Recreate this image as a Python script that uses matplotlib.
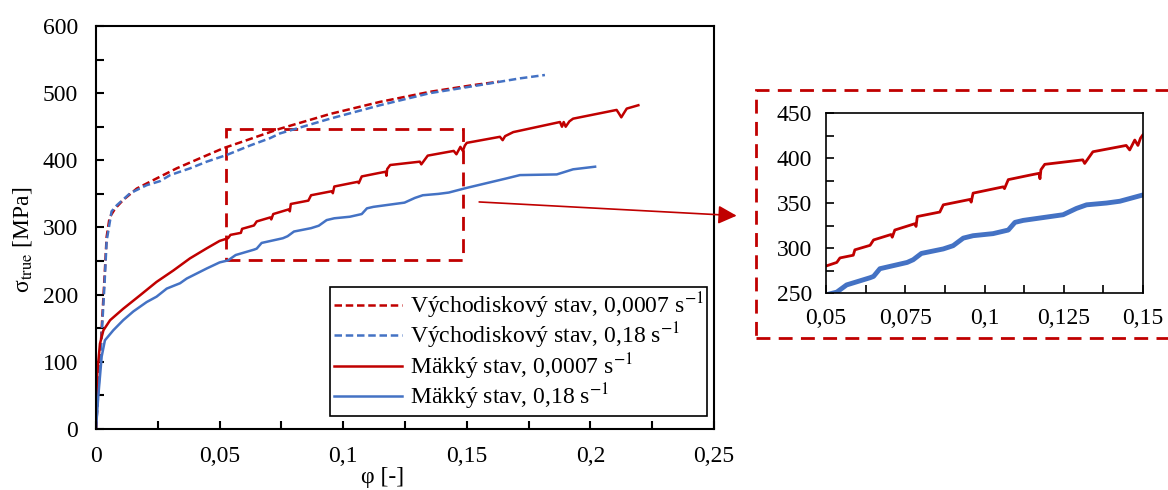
import matplotlib
matplotlib.use("Agg")
import matplotlib.pyplot as plt
from matplotlib.patches import Rectangle

plt.rcParams["font.family"] = ["Liberation Serif", "DejaVu Serif"]
plt.rcParams["mathtext.fontset"] = "stix"
plt.rcParams["font.size"] = 17

RED = "#C00000"
BLUE = "#4472C4"

# Východiskový stav, 0,0007 s-1
phi_v1 = [0, 0.002, 0.0035, 0.0043, 0.0055, 0.0077, 0.011, 0.0165, 0.0245, 0.0326,
          0.042, 0.0515, 0.061, 0.0704, 0.0744, 0.0947, 0.1149, 0.1351, 0.1526, 0.163]
sig_v1 = [0, 130, 230, 286, 315, 328, 341, 358, 373, 388,
          403, 418, 430, 442, 447, 469, 487, 502, 512, 517]

# Východiskový stav, 0,18 s-1
phi_v2 = [0, 0.002, 0.0035, 0.0043, 0.0063, 0.0084, 0.0138, 0.0205, 0.0259, 0.03,
          0.038, 0.0448, 0.0529, 0.0623, 0.0704, 0.0744, 0.0947, 0.1149, 0.1351,
          0.1553, 0.1715, 0.1816]
sig_v2 = [0, 120, 220, 280, 324, 333, 351, 363, 369, 378,
          388, 398, 408, 422, 433, 440, 462, 482, 500,
          512, 522, 527]

# Mäkký stav, 0,0007 s-1
phi_m1 = [0, 0.0005, 0.0016, 0.003, 0.0057, 0.011, 0.0178, 0.0245, 0.0313, 0.038,
          0.0448, 0.05, 0.0534, 0.0544, 0.0586, 0.0591, 0.0639, 0.065, 0.0705, 0.0709,
          0.0717, 0.078, 0.0784, 0.0788, 0.0859, 0.087, 0.0954, 0.0958, 0.0964, 0.1059,
          0.1063, 0.1075, 0.1143, 0.1172, 0.1175, 0.1178, 0.119, 0.131, 0.1316, 0.1342,
          0.1447, 0.1458, 0.1474, 0.1484, 0.1492, 0.15, 0.1634, 0.1645, 0.1655, 0.1688,
          0.1877, 0.1885, 0.1892, 0.19, 0.1915, 0.193, 0.2106, 0.2115, 0.2125, 0.2135,
          0.2147, 0.2194]
sig_m1 = [0, 83, 127, 147, 162, 179, 199, 219, 236, 254,
          269, 280, 284, 289, 292, 298, 303, 309, 315, 312,
          320, 327, 324, 335, 340, 348, 354, 351, 361, 368,
          366, 376, 381, 383, 377, 387, 393, 398, 394, 407,
          414, 409, 420, 414, 422, 426, 435, 430, 436, 442,
          457, 450, 457, 450, 458, 462, 475, 470, 464, 470,
          477, 482]

# Mäkký stav, 0,18 s-1
phi_m2 = [0, 0.0009, 0.0023, 0.0036, 0.007, 0.011, 0.0151, 0.0205, 0.0245, 0.0286,
          0.034, 0.0367, 0.0448, 0.05, 0.0534, 0.0565, 0.0639, 0.065, 0.067, 0.0756,
          0.0775, 0.0801, 0.087, 0.0901, 0.0933, 0.0964, 0.1027, 0.1075, 0.1096, 0.1122,
          0.1248, 0.129, 0.1322, 0.1385, 0.1427, 0.15, 0.166, 0.1715, 0.1864, 0.193,
          0.2019]
sig_m2 = [0, 48, 108, 132, 147, 162, 175, 189, 197, 209,
          217, 224, 239, 248, 251, 259, 267, 268.5, 277, 284,
          287, 294, 299, 302.6, 311, 313.7, 316, 320, 328.5, 330.7,
          337, 344, 348, 350, 352, 359, 373, 378, 379, 386.6,
          390.5]

labels = ["Východiskový stav, 0,0007 s$^{-1}$", "Východiskový stav, 0,18 s$^{-1}$",
          "Mäkký stav, 0,0007 s$^{-1}$", "Mäkký stav, 0,18 s$^{-1}$"]

x_ticks = [0, 0.05, 0.1, 0.15, 0.2, 0.25]
x_ticklabels = ["0", "0,05", "0,1", "0,15", "0,2", "0,25"]
y_ticks = [0, 100, 200, 300, 400, 500, 600]

ins_x_ticks = [0.05, 0.075, 0.1, 0.125, 0.15]
ins_x_ticklabels = ["0,05", "0,075", "0,1", "0,125", "0,15"]
ins_y_ticks = [250, 300, 350, 400, 450]

zoom_box = (0.0525, 252, 0.1485, 446)

fig = plt.figure(figsize=(11.68, 4.9), dpi=100)
ax = fig.add_axes([0.0822, 0.1245, 0.5291, 0.8225])

ax.plot(phi_v1, sig_v1, color=RED, lw=1.8, dashes=(3, 1.5), label=labels[0])
ax.plot(phi_v2, sig_v2, color=BLUE, lw=1.8, dashes=(3, 1.5), label=labels[1])
ax.plot(phi_m1, sig_m1, color=RED, lw=1.8, label=labels[2])
ax.plot(phi_m2, sig_m2, color=BLUE, lw=1.8, label=labels[3])

x0, y0, x1, y1 = zoom_box
ax.add_patch(Rectangle((x0, y0), x1 - x0, y1 - y0, fill=False, edgecolor=RED,
                       lw=2, linestyle=(0, (5, 3))))

ax.set_xlim(0, 0.25)
ax.set_ylim(0, 600)
ax.set_xticks(x_ticks)
ax.set_xticklabels(x_ticklabels)
ax.set_xticks([0.025, 0.075, 0.125, 0.175, 0.225], minor=True)
ax.set_yticks(y_ticks)
ax.set_yticks([50, 150, 250, 350, 450, 550], minor=True)
ax.tick_params(which="both", direction="in", length=6, width=1.5, top=False, right=False)
ax.tick_params(axis="y", which="major", pad=13)
ax.tick_params(axis="x", which="major", pad=12)
for s in ax.spines.values():
    s.set_linewidth(1.5)
ax.set_xlabel("φ [-]", labelpad=0)
ax.xaxis.set_label_coords(0.464, -0.095)
ax.set_ylabel(r"σ$_{\mathrm{true}}$ [MPa]")
ax.yaxis.set_label_coords(-0.1, 0.47)

leg = ax.legend(loc="lower right", bbox_to_anchor=(0.9887, 0.0323), borderaxespad=0,
                fancybox=False, edgecolor="black", framealpha=1, handlelength=2.9,
                labelspacing=0.0, borderpad=0.15, handletextpad=0.3)
leg.get_frame().set_linewidth(1.2)

# inset
axi = fig.add_axes([0.7072, 0.402, 0.2714, 0.3673])
axi.plot(phi_m1, sig_m1, color=RED, lw=2.0)
axi.plot(phi_m2, sig_m2, color=BLUE, lw=3.5)
axi.set_xlim(0.05, 0.15)
axi.set_ylim(250, 450)
axi.set_xticks(ins_x_ticks)
axi.set_xticklabels(ins_x_ticklabels)
axi.set_xticks([0.0625, 0.0875, 0.1125, 0.1375], minor=True)
axi.set_yticks(ins_y_ticks)
axi.set_yticks([275, 325, 375, 425], minor=True)
axi.tick_params(which="both", direction="in", length=6, width=1.2, top=False, right=False)
axi.tick_params(axis="y", which="major", pad=10)
axi.tick_params(axis="x", which="major", pad=11)
for s in axi.spines.values():
    s.set_linewidth(1.2)

# dashed frame around inset
fig.patches.append(Rectangle((0.6473, 0.3102), 0.4, 0.5061, transform=fig.transFigure,
                             fill=False, edgecolor=RED, lw=2, linestyle=(0, (5, 3))))

# arrow from zoom box to inset
ax.annotate("", xy=(0.6307, 0.5598), xycoords="figure fraction",
            xytext=(0.155, 338), textcoords="data",
            arrowprops=dict(arrowstyle="-|>", color=RED, lw=1.2, mutation_scale=28,
                            shrinkA=0, shrinkB=0),
            annotation_clip=False)

fig.savefig("out.png", dpi=100)
